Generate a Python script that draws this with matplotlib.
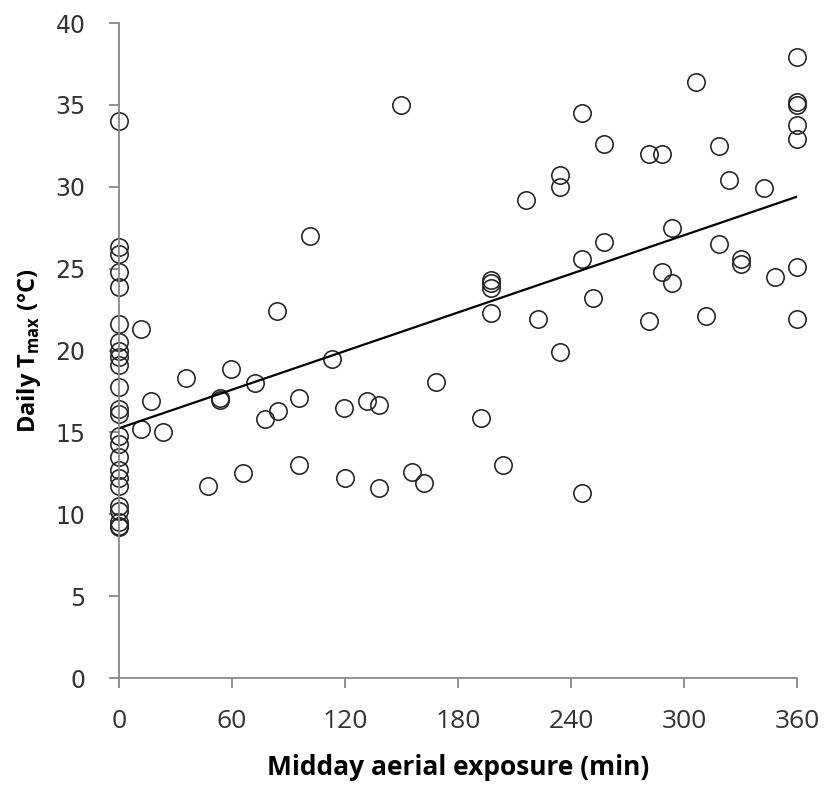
import numpy as np
import matplotlib.pyplot as plt

# points sitting on x = 0 (no midday exposure)
zero_y = [34.0, 26.3, 25.9, 24.8, 23.9, 21.6, 20.5, 20.0, 19.6, 19.1, 17.8,
          16.4, 16.1, 14.8, 14.3, 13.5, 12.7, 12.2, 11.7, 10.5, 10.2, 9.5,
          9.3, 9.2]

# remaining points (exposure in min, Tmax in degC)
exp_min = [11.7, 17, 11.7, 23.4, 35.6, 47.3, 53.6, 53.6, 59.5, 65.9, 72.2,
           77.5, 83.9, 84.4, 95.6, 95.6, 101.4, 113, 119.5, 120, 131.7, 138,
           138, 149.8, 155.6, 162, 168.3, 192.1, 197.6, 197.6, 197.6, 197.6,
           204, 216, 222.2, 234.2, 234.2, 234.2, 246, 246, 246, 251.4, 257.7,
           257.7, 281.5, 281.5, 288.2, 288.2, 293.8, 293.8, 306.4, 311.9,
           318.3, 318.3, 323.8, 330.2, 330.2, 342.2, 348.5, 360, 360, 360,
           360, 360, 360, 360]
tmax = [21.3, 16.9, 15.2, 15.0, 18.3, 11.7, 17.0, 17.1, 18.9, 12.5, 18.0,
        15.8, 22.4, 16.3, 13.0, 17.1, 27.0, 19.5, 16.5, 12.2, 16.9, 16.7,
        11.6, 35.0, 12.6, 11.9, 18.1, 15.9, 24.3, 24.1, 23.8, 22.3,
        13.0, 29.2, 21.9, 30.7, 30.0, 19.9, 34.5, 25.6, 11.3, 23.2, 32.6,
        26.6, 32.0, 21.8, 32.0, 24.8, 27.5, 24.1, 36.4, 22.1,
        32.5, 26.5, 30.4, 25.6, 25.3, 29.9, 24.5, 37.9, 35.2,
        35.0, 33.8, 32.9, 25.1, 21.9]

# linear trend as drawn in the figure
trend_a = 15.25
trend_b = 0.0393

x = np.array([0.0] * len(zero_y) + exp_min)
y = np.array(zero_y + tmax)

fig = plt.figure(figsize=(8.26, 7.86), dpi=100)
ax = fig.add_axes([0.144, 0.1374, 0.821, 0.8333])

ax.plot(x, y, 'o', mfc='none', mec='#222222', mew=1.15, ms=12.5,
        linestyle='none', clip_on=False)
xl = np.array([0, 360])
ax.plot(xl, trend_a + trend_b * xl, color='black', lw=1.6)

ax.set_xlim(0, 360)
ax.set_ylim(0, 40)
ax.set_xticks(range(0, 361, 60))
ax.set_yticks(range(0, 41, 5))

for s in ['top', 'right']:
    ax.spines[s].set_visible(False)
for s in ['left', 'bottom']:
    ax.spines[s].set_color('#888888')
    ax.spines[s].set_linewidth(1.3)
ax.tick_params(axis='both', direction='out', length=7, width=1.3,
               color='#888888')
ax.tick_params(axis='x', pad=15)
ax.tick_params(axis='y', pad=17)

for lab in ax.get_xticklabels():
    lab.set_fontfamily('Open Sans')
    lab.set_fontsize(19)
    lab.set_color('#333333')
for lab in ax.get_yticklabels():
    lab.set_fontfamily('DejaVu Sans')
    lab.set_fontsize(17)
    lab.set_color('#333333')

ax.set_xlabel('Midday aerial exposure (min)', fontsize=19, fontweight='bold',
              family='Open Sans', labelpad=15)
ax.set_ylabel(r'Daily T$_{\mathregular{max}}$ (°C)', fontsize=17,
              fontweight='bold', family='Open Sans', labelpad=9)

fig.savefig('out.png', dpi=100)
